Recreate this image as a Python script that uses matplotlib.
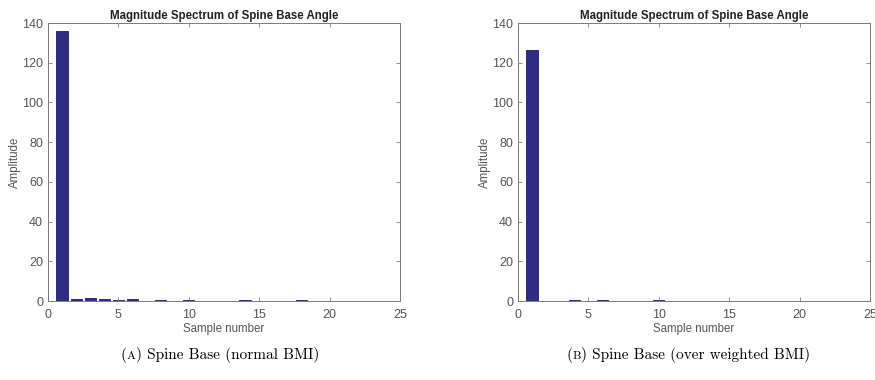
import matplotlib
matplotlib.use("Agg")
import matplotlib.pyplot as plt
from matplotlib.offsetbox import TextArea, HPacker, AnnotationBbox

# Magnitude spectrum values
samples = list(range(1, 24))
normal_bmi = [136, 1.0, 1.5, 1.0, 0.3, 1.1, 0.1, 0.3, 0.1, 0.6, 0.1, 0.1, 0.1,
              0.3, 0.1, 0.1, 0.1, 0.3, 0.1, 0.1, 0.1, 0.1, 0.2]
over_bmi = [126.5, 0.2, 0.2, 0.4, 0.1, 0.3, 0.1, 0.1, 0.2, 0.4, 0.1, 0.1, 0.1,
            0.1, 0.1, 0.1, 0.1, 0.1, 0.1, 0.1, 0.1, 0.1, 0.1]
panels = [("A", "Spine Base (normal BMI)", normal_bmi),
          ("B", "Spine Base (over weighted BMI)", over_bmi)]

bar_color = "#302b84"
axis_gray = "#7a7a7a"
text_gray = "#555555"

plt.rcParams["font.family"] = ["Liberation Sans", "DejaVu Sans"]

fig = plt.figure(figsize=(8.75, 3.8), dpi=100)
rects = [[48 / 875, 1 - 301 / 380, 352 / 875, 278 / 380],
         [518 / 875, 1 - 301 / 380, 352 / 875, 278 / 380]]
caption_x = [220 / 875, 688 / 875]

for (letter, caption, values), rect, cx in zip(panels, rects, caption_x):
    ax = fig.add_axes(rect)
    ax.bar(samples, values, width=0.8, color=bar_color, edgecolor="#1f1a6e", linewidth=0.6)
    ax.set_xlim(0, 25)
    ax.set_ylim(0, 140)
    ax.set_xticks(range(0, 26, 5))
    ax.set_yticks(range(0, 141, 20))
    ax.tick_params(direction="in", length=3, width=0.6, colors=axis_gray,
                   labelcolor=text_gray, labelsize=9, top=True, right=True)
    ax.tick_params(axis="x", pad=6)
    for s in ax.spines.values():
        s.set_color(axis_gray)
        s.set_linewidth(0.7)
    ax.set_title("Magnitude Spectrum of Spine Base Angle", fontsize=8.3,
                 fontweight="bold", color="#222222", pad=3)
    ax.set_xlabel("Sample number", fontsize=8.3, color=text_gray, labelpad=1)
    ax.set_ylabel("Amplitude", fontsize=8.3, color=text_gray, labelpad=1)

    # caption with small-caps letter
    parts = [TextArea("(", textprops=dict(family="cmr10", size=11)),
             TextArea(letter, textprops=dict(family="cmr10", size=8.5)),
             TextArea(") " + caption, textprops=dict(family="cmr10", size=11))]
    box = HPacker(children=parts, pad=0, sep=0, align="baseline")
    ab = AnnotationBbox(box, (cx, 1 - 355 / 380), xycoords="figure fraction",
                        frameon=False, box_alignment=(0.5, 0.5))
    fig.add_artist(ab)

fig.savefig("out.png", dpi=100)
